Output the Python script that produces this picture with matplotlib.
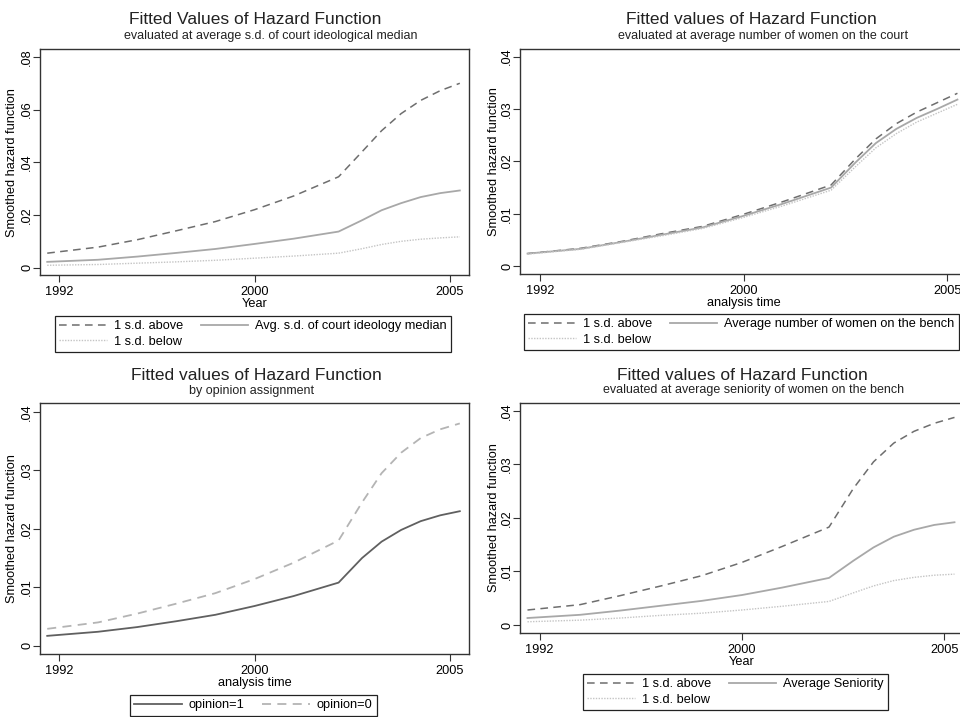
import matplotlib
matplotlib.use("Agg")
import matplotlib.pyplot as plt
from matplotlib.lines import Line2D

plt.rcParams['font.family'] = ['Liberation Sans', 'DejaVu Sans']

# x positions in analysis-time units (0 = 1992, 1 = 2000, 2 = 2005 tick marks)
t = [-0.06, 0.2, 0.4, 0.6, 0.8, 1.0, 1.2, 1.43, 1.55, 1.65, 1.75, 1.85, 1.95, 2.05]
tick_pos = [0, 1, 2]
tick_labels = ['1992', '2000', '2005']

# Panel 1: court ideology s.d.
p1_above = [0.0055, 0.0078, 0.0106, 0.0140, 0.0175, 0.0220, 0.0272, 0.0345, 0.0440, 0.0520, 0.0585, 0.0635, 0.0672, 0.0700]
p1_avg   = [0.0022, 0.0030, 0.0042, 0.0056, 0.0071, 0.0090, 0.0110, 0.0137, 0.0180, 0.0218, 0.0245, 0.0268, 0.0283, 0.0293]
p1_below = [0.0009, 0.0012, 0.0017, 0.0022, 0.0028, 0.0036, 0.0044, 0.0055, 0.0072, 0.0088, 0.0100, 0.0108, 0.0113, 0.0117]

# Panel 2: women on the court
p2_above = [0.0024, 0.0034, 0.0047, 0.0062, 0.0076, 0.0099, 0.0124, 0.0155, 0.0205, 0.0243, 0.0272, 0.0294, 0.0312, 0.0330]
p2_avg   = [0.0024, 0.0033, 0.0046, 0.0060, 0.0074, 0.0096, 0.0120, 0.0150, 0.0198, 0.0235, 0.0262, 0.0283, 0.0300, 0.0318]
p2_below = [0.0023, 0.0032, 0.0045, 0.0058, 0.0072, 0.0093, 0.0116, 0.0145, 0.0190, 0.0226, 0.0253, 0.0275, 0.0292, 0.0309]

# Panel 3: opinion assignment
p3_op1 = [0.0017, 0.0024, 0.0032, 0.0042, 0.0053, 0.0068, 0.0085, 0.0108, 0.0150, 0.0178, 0.0198, 0.0213, 0.0223, 0.0230]
p3_op0 = [0.0029, 0.0040, 0.0055, 0.0072, 0.0090, 0.0114, 0.0142, 0.0180, 0.0245, 0.0295, 0.0330, 0.0355, 0.0370, 0.0380]

# Panel 4: seniority of women
p4_above = [0.0028, 0.0038, 0.0055, 0.0073, 0.0092, 0.0117, 0.0147, 0.0183, 0.0255, 0.0305, 0.0340, 0.0362, 0.0377, 0.0388]
p4_avg   = [0.0013, 0.0019, 0.0027, 0.0036, 0.0045, 0.0056, 0.0070, 0.0088, 0.0120, 0.0145, 0.0165, 0.0178, 0.0187, 0.0192]
p4_below = [0.0006, 0.0009, 0.0013, 0.0018, 0.0022, 0.0028, 0.0035, 0.0044, 0.0060, 0.0073, 0.0083, 0.0089, 0.0093, 0.0095]

W, H = 960, 717
fig = plt.figure(figsize=(9.6, 7.17), dpi=100)
fig.patch.set_facecolor('white')

C_DASH = '#6e6e6e'
C_SOLID = '#a8a8a8'
C_DOT = '#c4c4c4'
DASH = (0, (5, 3.5))
DOT = (0, (1, 1))
FS = 9.2


def make_ax(left, right, top, bottom, ylim, yticks, yticklabels, xlabel, ylab_x):
    ax = fig.add_axes([left / W, 1 - bottom / H, (right - left) / W, (bottom - top) / H])
    ax.set_xlim(-0.097, 2.097)
    ax.set_ylim(*ylim)
    ax.set_xticks(tick_pos)
    ax.set_xticklabels(tick_labels, fontsize=FS)
    ax.set_yticks(yticks)
    ax.set_yticklabels(yticklabels, fontsize=FS, rotation=90, va='center')
    ax.tick_params(axis='x', length=5, width=0.8, color='#333333', pad=3)
    ax.tick_params(axis='y', length=5, width=0.8, color='#333333', pad=0)
    for s in ax.spines.values():
        s.set_linewidth(1.0)
        s.set_color('#333333')
    ax.set_xlabel(xlabel, fontsize=FS, labelpad=0)
    ax.set_ylabel('Smoothed hazard function', fontsize=FS)
    ax.yaxis.label.set_verticalalignment('center')
    ax.yaxis.set_label_coords((ylab_x - left) / (right - left), 0.5)
    return ax


def add_legend(ax, handles, labels, x, y, ncol=2):
    leg = ax.legend(handles, labels, loc='upper left', bbox_to_anchor=(x / W, 1 - y / H),
                    bbox_transform=fig.transFigure, ncol=ncol, fontsize=FS,
                    frameon=True, fancybox=False, framealpha=1, edgecolor='#222222',
                    borderaxespad=0, handlelength=3.7, handletextpad=0.55,
                    columnspacing=1.4, labelspacing=0.25, borderpad=0.35)
    leg.get_frame().set_linewidth(0.9)
    return leg


def hline(color, ls, lw=1.1):
    return Line2D([], [], color=color, linestyle=ls, linewidth=lw)


TFS = 12.5
SFS = 9.0

# ---- Panel 1
ax1 = make_ax(40, 469, 49.3, 275.3, (-0.0029, 0.0829), [0, 0.02, 0.04, 0.06, 0.08],
              ['0', '.02', '.04', '.06', '.08'], 'Year', 12)
ax1.plot(t, p1_above, color=C_DASH, linestyle=DASH, lw=1.1)
ax1.plot(t, p1_avg, color=C_SOLID, linestyle='-', lw=1.3)
ax1.plot(t, p1_below, color=C_DOT, linestyle=DOT, lw=1.0)
add_legend(ax1, [hline(C_DASH, DASH), hline(C_DOT, DOT, 1.0), hline(C_SOLID, '-', 1.3)],
           ['1 s.d. above', '1 s.d. below', 'Avg. s.d. of court ideology median'], 55, 316)
fig.text(255 / W, 1 - 20 / H, 'Fitted Values of Hazard Function', ha='center', va='center', fontsize=TFS, color='#222222')
fig.text(271 / W, 1 - 36 / H, 'evaluated at average s.d. of court ideological median', ha='center', va='center', fontsize=SFS, color='#222222')

# ---- Panel 2
ax2 = make_ax(520, 967, 49.3, 274, (-0.0015, 0.0414), [0, 0.01, 0.02, 0.03, 0.04],
              ['0', '.01', '.02', '.03', '.04'], 'analysis time', 494)
ax2.plot(t, p2_above, color=C_DASH, linestyle=DASH, lw=1.1)
ax2.plot(t, p2_avg, color=C_SOLID, linestyle='-', lw=1.3)
ax2.plot(t, p2_below, color=C_DOT, linestyle=DOT, lw=1.0)
add_legend(ax2, [hline(C_DASH, DASH), hline(C_DOT, DOT, 1.0), hline(C_SOLID, '-', 1.3)],
           ['1 s.d. above', '1 s.d. below', 'Average number of women on the bench'], 524, 314)
fig.text(751 / W, 1 - 20 / H, 'Fitted values of Hazard Function', ha='center', va='center', fontsize=TFS, color='#222222')
fig.text(763 / W, 1 - 36 / H, 'evaluated at average number of women on the court', ha='center', va='center', fontsize=SFS, color='#222222')

# ---- Panel 3
ax3 = make_ax(40, 469, 403.3, 654, (-0.0014, 0.04144), [0, 0.01, 0.02, 0.03, 0.04],
              ['0', '.01', '.02', '.03', '.04'], 'analysis time', 12)
ax3.plot(t, p3_op1, color='#606060', linestyle='-', lw=1.3)
ax3.plot(t, p3_op0, color='#b4b4b4', linestyle=DASH, lw=1.3)
add_legend(ax3, [hline('#606060', '-', 1.3), hline('#b4b4b4', DASH, 1.3)],
           ['opinion=1', 'opinion=0'], 130, 695)
fig.text(256 / W, 1 - 376 / H, 'Fitted values of Hazard Function', ha='center', va='center', fontsize=TFS, color='#222222')
fig.text(252 / W, 1 - 391 / H, 'by opinion assignment', ha='center', va='center', fontsize=SFS, color='#222222')

# ---- Panel 4
ax4 = make_ax(520, 964, 402.7, 633, (-0.0015, 0.04155), [0, 0.01, 0.02, 0.03, 0.04],
              ['0', '.01', '.02', '.03', '.04'], 'Year', 494)
ax4.plot(t, p4_above, color=C_DASH, linestyle=DASH, lw=1.1)
ax4.plot(t, p4_avg, color=C_SOLID, linestyle='-', lw=1.3)
ax4.plot(t, p4_below, color=C_DOT, linestyle=DOT, lw=1.0)
add_legend(ax4, [hline(C_DASH, DASH), hline(C_DOT, DOT, 1.0), hline(C_SOLID, '-', 1.3)],
           ['1 s.d. above', '1 s.d. below', 'Average Seniority'], 583, 674)
fig.text(742 / W, 1 - 376 / H, 'Fitted values of Hazard Function', ha='center', va='center', fontsize=TFS, color='#222222')
fig.text(754 / W, 1 - 390 / H, 'evaluated at average seniority of women on the bench', ha='center', va='center', fontsize=SFS, color='#222222')

fig.savefig('out.png', dpi=100, facecolor='white')
